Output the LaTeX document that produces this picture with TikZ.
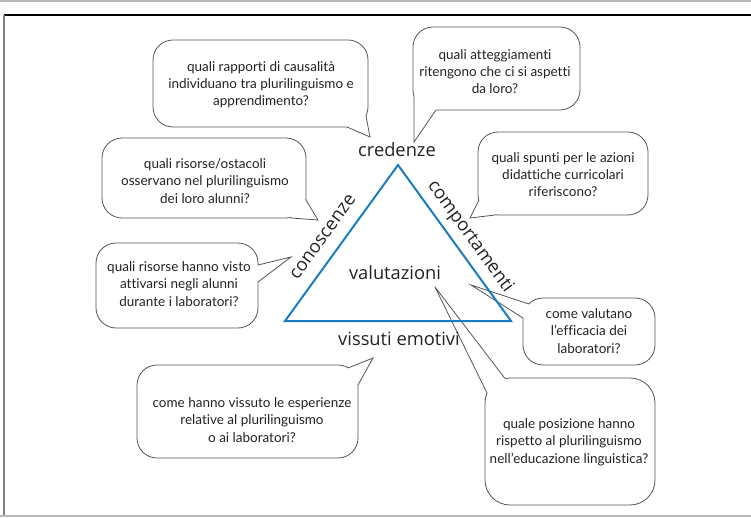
\documentclass[tikz,border=0pt]{standalone}
\usepackage{fontspec}
\setmainfont{Lato}[Ligatures={NoCommon}]
\newfontfamily\labelfont{Open Sans}
\definecolor{bubline}{HTML}{555555}
\definecolor{txt}{HTML}{222222}
\definecolor{triblue}{HTML}{1A7CC1}
\begin{document}
\begin{tikzpicture}[x=1pt,y=-1pt,
  bubblebody/.style={draw=bubline, fill=white, line width=0.8pt, rounded corners=20pt, inner sep=0pt, rectangle},
  tailline/.style={draw=bubline, line width=0.8pt, line join=miter},
  bubtext/.style={align=center, text=txt, font=\fontsize{13.5}{17.3}\selectfont, inner sep=0pt},
  biglabel/.style={text=txt, font=\labelfont\fontsize{18.3}{20}\selectfont, inner sep=0pt}]
\useasboundingbox (0,0) rectangle (751,518);
% frame
\draw[gray!55, line width=1.5pt] (0,1) -- (751,1);
\draw[black, line width=1.5pt] (4,15) -- (751,15);
\draw[gray, line width=2pt] (4,15) -- (4,516);
\draw[gray!55, line width=1.5pt] (0,516) -- (751,516);

\newcommand\bubtail[4]{%
  \fill[white] #1 -- #2 -- #3 -- #4 -- cycle;
  \draw[tailline] #1 -- #2 -- #3;}

% bubble bodies
\node[bubblebody, minimum width=215pt, minimum height=87pt] (b1) at (260.5,83.5) {};
\node[bubblebody, minimum width=167pt, minimum height=83pt] (b2) at (496.5,68.5) {};
\node[bubblebody, minimum width=204pt, minimum height=80pt] (b3) at (204,178) {};
\node[bubblebody, minimum width=162pt, minimum height=85pt] (b4) at (177,285.5) {};
\node[bubblebody, minimum width=170pt, minimum height=83pt] (b5) at (563,173.5) {};
\node[bubblebody, minimum width=132pt, minimum height=67pt] (b6) at (589,331.5) {};
\node[bubblebody, minimum width=221pt, minimum height=93pt] (b7) at (247.5,411.5) {};
\node[bubblebody, rounded corners=25pt, minimum width=170pt, minimum height=127pt] (b8) at (570,441.5) {};

% tail tips
\coordinate (t1) at (370,137);
\coordinate (t2) at (414,142);
\coordinate (t3) at (318,220);
\coordinate (t4) at (291,257);
\coordinate (t5) at (470,218);
\coordinate (t6) at (471,285);
\coordinate (t7) at (373,358);
\coordinate (t8) at (435,287);

\bubtail{(347,127)}{(t1)}{(366,116)}{(355,112)}
\bubtail{(414,96)}{(t2)}{(436,110)}{(425,95)}
\bubtail{(306,200)}{(t3)}{(291,218)}{(295,205)}
\bubtail{(258,265)}{(t4)}{(258,282)}{(250,273)}
\bubtail{(479,200)}{(t5)}{(495,215)}{(488,203)}
\bubtail{(529,304)}{(t6)}{(523,318)}{(532,314)}
\bubtail{(348,368)}{(t7)}{(358,385)}{(347,377)}
\bubtail{(505,378.5)}{(t8)}{(487,393)}{(497,390)}

% bubble texts
\node[bubtext] (q1) at (261,84.5) {quali rapporti di causalità\\individuano tra plurilinguismo e\\apprendimento?};
\node[bubtext] (q2) at (495,71.5) {quali atteggiamenti\\ritengono che ci si aspetti\\da loro?};
\node[bubtext] (q3) at (205,181) {quali risorse/ostacoli\\osservano nel plurilinguismo\\dei loro alunni?};
\node[bubtext] (q4) at (179,284) {quali risorse hanno visto\\attivarsi negli alunni\\durante i laboratori?};
\node[bubtext] (q5) at (563,174.5) {quali spunti per le azioni\\didattiche curricolari\\riferiscono?};
\node[bubtext] (q6) at (589,331) {come valutano\\l’efficacia dei\\laboratori?};
\node[bubtext] (q7) at (252,420) {come hanno vissuto le esperienze\\relative al plurilinguismo\\o ai laboratori?};
\node[bubtext] (q8) at (569,442) {quale posizione hanno\\rispetto al plurilinguismo\\nell’educazione linguistica?};

% triangle
\coordinate (apex) at (398,165);
\coordinate (bl) at (285,321);
\coordinate (br) at (511,321);
\draw[triblue, line width=2pt, line join=miter] (apex) -- (br) -- (bl) -- cycle;

% labels
\node[biglabel] (cred) at (397,150) {credenze};
\node[biglabel] (valu) at (395,273) {valutazioni};
\node[biglabel, rotate=54] (cono) at (323,237) {conoscenze};
\node[biglabel, rotate=-54] (comp) at (470,237) {comportamenti};
\node[biglabel] (viss) at (399,339) {vissuti emotivi};
\end{tikzpicture}
\end{document}
